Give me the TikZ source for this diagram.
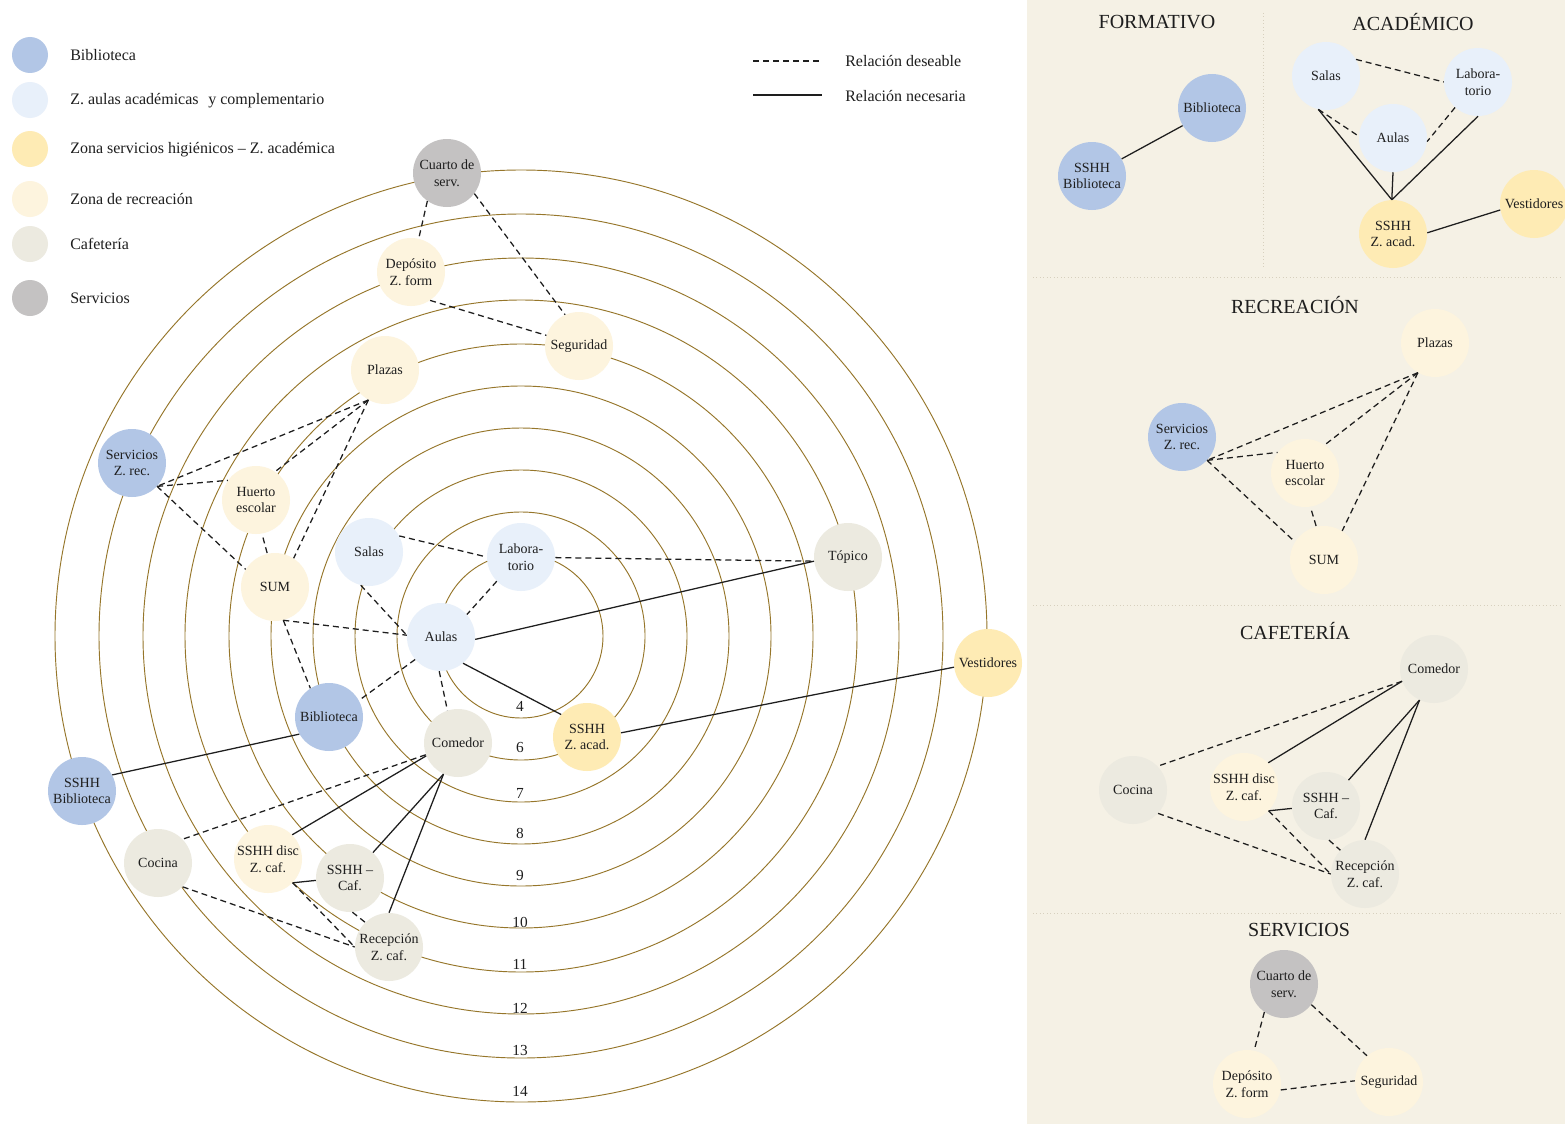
\documentclass[tikz,border=0pt]{standalone}
\usepackage{fontspec}
\setmainfont{Liberation Serif}
\definecolor{bibblue}{RGB}{178,198,230}
\definecolor{aulblue}{RGB}{232,240,250}
\definecolor{sshhyel}{RGB}{254,235,180}
\definecolor{recpale}{RGB}{253,244,222}
\definecolor{cafbeige}{RGB}{236,234,224}
\definecolor{servgray}{RGB}{196,194,194}
\definecolor{ringc}{RGB}{150,118,42}
\definecolor{panelbg}{RGB}{245,241,229}
\definecolor{sepc}{RGB}{215,208,190}
\definecolor{inkc}{RGB}{30,30,30}
\begin{document}
\begin{tikzpicture}[x=0.75pt,y=-0.75pt,
  zone/.style={circle,minimum size=51pt,inner sep=0pt,align=center,
    font=\fontsize{10.5}{12.5}\selectfont,text=inkc},
  zbib/.style={zone,fill=bibblue},
  zaul/.style={zone,fill=aulblue},
  zsshh/.style={zone,fill=sshhyel},
  zrec/.style={zone,fill=recpale},
  zcaf/.style={zone,fill=cafbeige},
  zserv/.style={zone,fill=servgray},
  ring/.style={draw=ringc,line width=0.7pt},
  ringnum/.style={font=\fontsize{11.5}{13}\selectfont,text=inkc,inner sep=0pt},
  des/.style={draw=inkc,line width=0.95pt,dash pattern=on 4.5pt off 3pt},
  nec/.style={draw=inkc,line width=0.95pt},
  legtext/.style={anchor=west,font=\fontsize{12}{14}\selectfont,text=inkc,inner sep=0pt},
  legdot/.style={circle,minimum size=27pt,inner sep=0pt},
  paneltitle/.style={font=\fontsize{15}{17}\selectfont,text=inkc,inner sep=0pt},
  sepline/.style={draw=sepc,line width=0.6pt,dotted},
]
\useasboundingbox (0,0) rectangle (1565,1124);
\fill[white] (0,0) rectangle (1565,1124);

% ---------------- legend ----------------
\node[legdot,fill=bibblue]   (l1) at (30,55)  {};
\node[legdot,fill=aulblue]   (l2) at (30,100) {};
\node[legdot,fill=sshhyel]   (l3) at (30,149) {};
\node[legdot,fill=recpale]   (l4) at (30,199) {};
\node[legdot,fill=cafbeige]  (l5) at (30,244) {};
\node[legdot,fill=servgray]  (l6) at (30,298) {};
\node[legtext] (t1) at (70,55)  {Biblioteca};
\node[legtext] (t2) at (70,101) {Z. aulas académicas\hspace{0.35em} y complementario};
\node[legtext] (t3) at (70,150) {Zona servicios higiénicos -- Z. académica};
\node[legtext] (t4) at (70,199) {Zona de recreación};
\node[legtext] (t5) at (70,244) {Cafetería};
\node[legtext] (t6) at (70,298) {Servicios};

\coordinate (ld1) at (753,61);  \coordinate (ld2) at (822,61);
\coordinate (ln1) at (753,95);  \coordinate (ln2) at (822,95);
\draw[draw=inkc,line width=0.8pt,dash pattern=on 4.5pt off 3pt] (ld1) -- (ld2);
\draw[draw=inkc,line width=0.9pt] (ln1) -- (ln2);
\node[legtext] (td) at (845,61) {Relación deseable};
\node[legtext] (tn) at (845,96) {Relación necesaria};

% ---------------- concentric rings ----------------
\coordinate (ctr) at (521,636);
\foreach \r in {82,124,166,208,250,292,336,378,422,466}
  \draw[ring] (ctr) circle[radius=\r*0.75pt];
\foreach \n/\y in {4/706,6/747,7/793,8/833,9/875,10/922,11/964,12/1008,13/1050,14/1091}
  \node[ringnum] (rn\n) at (520,\y) {\n};

% ---------------- zones ----------------
\node[zserv] (cuarto)   at (447,173) {Cuarto de\\serv.};
\node[zrec]  (deposito) at (411,272) {Depósito\\Z. form};
\node[zrec]  (seguridad) at (579,346) {Seguridad};
\node[zrec]  (plazas)   at (385,370) {Plazas};
\node[zbib]  (servrec)  at (132,463) {Servicios\\Z. rec.};
\node[zrec]  (huerto)   at (256,500) {Huerto\\escolar};
\node[zaul]  (salas)    at (369,552) {Salas};
\node[zaul]  (lab)      at (521,557) {Labora-\\torio};
\node[zcaf]  (topico)   at (848,557) {Tópico};
\node[zrec]  (sum)      at (275,587) {SUM};
\node[zaul]  (aulas)    at (441,637) {Aulas};
\node[zsshh] (vest)     at (988,663) {Vestidores};
\node[zbib]  (bib)      at (329,717) {Biblioteca};
\node[zcaf]  (comedor)  at (458,743) {Comedor};
\node[zsshh] (sshhacad) at (587,737) {SSHH\\Z. acad.};
\node[zbib]  (sshhbib)  at (82,791)  {SSHH\\Biblioteca};
\node[zcaf]  (cocina)   at (158,863) {Cocina};
\node[zrec]  (sshhdisc) at (268,859) {SSHH disc\\Z. caf.};
\node[zcaf]  (sshhcaf)  at (350,878) {SSHH --\\Caf.};
\node[zcaf]  (recep)    at (389,947) {Recepción\\Z. caf.};

% desirable relations
\draw[des] (cuarto.235) -- (deposito.77);
\draw[des] (cuarto.-37) -- (seguridad.114);
\draw[des] (deposito.-56) -- (seguridad.162);
\draw[des] (plazas.241) -- (servrec.-43);
\draw[des] (plazas.241) -- (huerto.56);
\draw[des] (plazas.241) -- (sum.57);
\draw[des] (servrec.-43) -- (huerto.145);
\draw[des] (servrec.-43) -- (sum.149);
\draw[des,shorten <=3pt] (huerto.-80) -- (sum.103);
\draw[des] (salas.28) -- (lab.180);
\draw[des] (salas.256) -- (aulas.177);
\draw[des] (sum.-76) -- (aulas.177);
\draw[des] (sum.-76) -- (bib.123);
\draw[des] (lab.225) -- (aulas.41);
\draw[des] (lab.-1) -- (topico.187);
\draw[des] (aulas.221) -- (bib.29);
\draw[des] (aulas.-93) -- (comedor.108);
\draw[des] (comedor.200) -- (cocina.44);
\draw[des] (cocina.-44) -- (recep.180);
\draw[des] (sshhdisc.-44) -- (recep.180);
\draw[des] (sshhcaf.-86) -- (recep.134);

% necessary relations
\draw[nec] (aulas.-4) -- (topico.187);
\draw[nec] (aulas.-50) -- (sshhacad.139);
\draw[nec] (sshhacad.7) -- (vest.187);
\draw[nec] (bib.210) -- (sshhbib.28);
\draw[nec] (comedor.202) -- (sshhdisc.45);
\draw[nec] (comedor.245) -- (sshhcaf.48);
\draw[nec] (comedor.245) -- (recep.90);
\draw[nec] (sshhdisc.-44) -- (sshhcaf.184);

% ---------------- side panel ----------------
\fill[panelbg] (1027,0) rectangle (1565,1124);
\coordinate (sv1) at (1263,13);   \coordinate (sv2) at (1263,268);
\coordinate (sa1) at (1033,277);  \coordinate (sa2) at (1560,277);
\coordinate (sb1) at (1033,605);  \coordinate (sb2) at (1560,605);
\coordinate (sc1) at (1033,913);  \coordinate (sc2) at (1560,913);
\draw[sepline] (sv1) -- (sv2);
\draw[sepline] (sa1) -- (sa2);
\draw[sepline] (sb1) -- (sb2);
\draw[sepline] (sc1) -- (sc2);

\node[paneltitle] (hform) at (1157,22)  {FORMATIVO};
\node[paneltitle] (hacad) at (1413,22)  {ACADÉMICO};
\node[paneltitle] (hrec)  at (1295,305) {RECREACIÓN};
\node[paneltitle] (hcaf)  at (1295,631) {CAFETERÍA};
\node[paneltitle] (hserv) at (1299,930) {SERVICIOS};

% formativo
\node[zbib] (fbib)  at (1212,108) {Biblioteca};
\node[zbib] (fsshh) at (1092,176) {SSHH\\Biblioteca};
\draw[nec] (fbib.211) -- (fsshh.30);

% academico
\node[zaul]  (asalas) at (1326,76)  {Salas};
\node[zaul]  (alab)   at (1478,82)  {Labora-\\torio};
\node[zaul]  (aaulas) at (1393,138) {Aulas};
\node[zsshh] (asshh)  at (1393,234) {SSHH\\Z. acad.};
\node[zsshh] (avest)  at (1534,204) {Vestidores};
\draw[des] (asalas.29) -- (alab.180);
\draw[des] (asalas.257) -- (aaulas.177);
\draw[des] (alab.228) -- (aaulas.-6);
\draw[nec] (asalas.257) -- (asshh.92);
\draw[nec] (aaulas.-90) -- (asshh.92);
\draw[nec] (alab.-90) -- (asshh.92);
\draw[nec] (asshh.2) -- (avest.190);

% recreacion
\node[zrec] (rplazas) at (1435,343) {Plazas};
\node[zbib] (rserv)   at (1182,437) {Servicios\\Z. rec.};
\node[zrec] (rhuerto) at (1305,473) {Huerto\\escolar};
\node[zrec] (rsum)    at (1324,560) {SUM};
\draw[des] (rplazas.240) -- (rserv.-43);
\draw[des] (rplazas.240) -- (rhuerto.55);
\draw[des] (rplazas.240) -- (rsum.58);
\draw[des] (rserv.-43) -- (rhuerto.143);
\draw[des] (rserv.-43) -- (rsum.148);
\draw[des,shorten <=3pt] (rhuerto.-81) -- (rsum.103);

% cafeteria
\node[zcaf] (ccomedor) at (1434,669) {Comedor};
\node[zcaf] (ccocina)  at (1133,790) {Cocina};
\node[zrec] (cdisc)    at (1244,787) {SSHH disc\\Z. caf.};
\node[zcaf] (csshh)    at (1326,806) {SSHH --\\Caf.};
\node[zcaf] (crecep)   at (1365,874) {Recepción\\Z. caf.};
\draw[des] (ccomedor.201) -- (ccocina.44);
\draw[nec] (ccomedor.201) -- (cdisc.45);
\draw[nec] (ccomedor.245) -- (csshh.49);
\draw[nec] (ccomedor.245) -- (crecep.90);
\draw[des] (ccocina.-43) -- (crecep.180);
\draw[nec] (cdisc.-44) -- (csshh.184);
\draw[des] (cdisc.-44) -- (crecep.180);
\draw[des] (csshh.-85) -- (crecep.136);

% servicios
\node[zserv] (scuarto) at (1284,984)  {Cuarto de\\serv.};
\node[zrec]  (sdep)    at (1247,1084) {Depósito\\Z. form};
\node[zrec]  (sseg)    at (1389,1082) {Seguridad};
\draw[des] (scuarto.235) -- (sdep.78);
\draw[des] (scuarto.-37) -- (sseg.130);
\draw[des] (sdep.-10) -- (sseg.178);
\end{tikzpicture}
\end{document}
